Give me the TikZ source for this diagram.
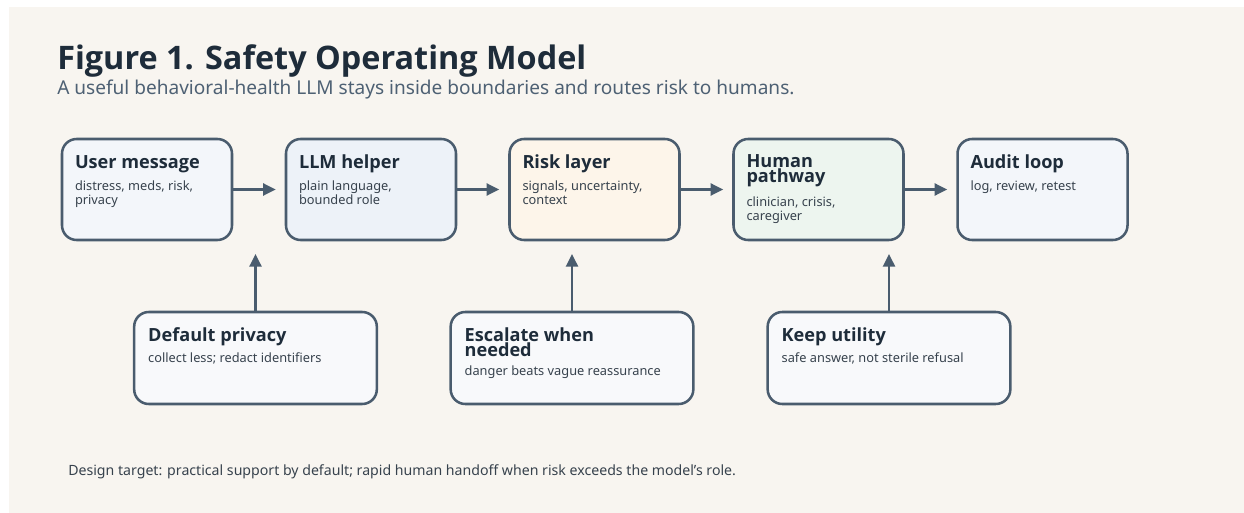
\documentclass[tikz,border=0pt]{standalone}
\usepackage{fontspec}
\setmainfont{Noto Sans}
\newfontfamily\headfont{Open Sans}
\usetikzlibrary{arrows.meta,positioning}

\definecolor{paper}{HTML}{F8F5F0}
\definecolor{ink}{HTML}{1E2C3A}
\definecolor{edge}{HTML}{4A5C6E}
\definecolor{subink}{HTML}{4E6174}
\definecolor{bodyink}{HTML}{37424D}
\definecolor{bluefill}{HTML}{F3F6FA}
\definecolor{llmfill}{HTML}{EDF2F8}
\definecolor{riskfill}{HTML}{FDF5EA}
\definecolor{humanfill}{HTML}{EDF5EF}
\definecolor{rulefill}{HTML}{F8F9FB}

\tikzset{
  card/.style={draw=edge, line width=1.9pt, rounded corners=11pt,
    minimum width=127.5pt, minimum height=75.75pt, inner sep=0pt},
  rulecard/.style={card, fill=rulefill, minimum width=182pt, minimum height=69pt},
  head/.style={anchor=base west, inner sep=0pt, text=ink, align=left,
    font=\headfont\bfseries\fontsize{13.6}{11.5}\selectfont},
  body/.style={anchor=base west, inner sep=0pt, text=bodyink, align=left,
    font=\fontsize{9.6}{10.5}\selectfont},
  flow/.style={draw=edge, line width=1.8pt, -{Triangle[length=9.5pt,width=9pt]}}
}

\begin{document}
\begin{tikzpicture}[x=0.75pt,y=-0.75pt]
  % page and paper
  \useasboundingbox[fill=white] (0,0) rectangle (1244,513);
  \fill[paper] (9,7) rectangle (1244,513);

  % heading
  \node[anchor=base west, inner sep=0pt, text=ink,
    font=\headfont\bfseries\fontsize{24.3}{28}\selectfont] (title) at (57,70) {Figure 1. Safety Operating Model};
  \node[anchor=base west, inner sep=0pt, text=subink,
    font=\fontsize{14.3}{17}\selectfont] (subtitle) at (57,95)
    {A useful behavioral-health LLM stays inside boundaries and routes risk to humans.};

  % main flow (base of a multi-line text = its last line)
  \node[card, fill=bluefill]  (user)  at (147,189.5) {};
  \node[card, fill=llmfill]   (llm)   at (371,189.5) {};
  \node[card, fill=riskfill]  (risk)  at (594.5,189.5) {};
  \node[card, fill=humanfill] (human) at (818.5,189.5) {};
  \node[card, fill=bluefill]  (audit) at (1042.5,189.5) {};

  \node[head] at ([shift={(14,31)}]user.north west) {User message};
  \node[body] at ([shift={(14,67)}]user.north west) {distress, meds, risk,\\privacy};
  \node[head] at ([shift={(14,31)}]llm.north west) {LLM helper};
  \node[body] at ([shift={(14,67)}]llm.north west) {plain language,\\bounded role};
  \node[head] at ([shift={(14,31)}]risk.north west) {Risk layer};
  \node[body] at ([shift={(14,67)}]risk.north west) {signals, uncertainty,\\context};
  \node[head] at ([shift={(14,45)}]human.north west) {Human\\pathway};
  \node[body] at ([shift={(14,83)}]human.north west) {clinician, crisis,\\caregiver};
  \node[head] at ([shift={(14,31)}]audit.north west) {Audit loop};
  \node[body] at ([shift={(14,53)}]audit.north west) {log, review, retest};

  \draw[flow, shorten >=6.75pt] (user) -- (llm);
  \draw[flow, shorten >=6.75pt] (llm) -- (risk);
  \draw[flow, shorten >=6.75pt] (risk) -- (human);
  \draw[flow, shorten >=6.75pt] (human) -- (audit);

  % guard rails below
  \node[rulecard] (privacy)  at (255.5,358) {};
  \node[rulecard] (escalate) at (572,358) {};
  \node[rulecard] (utility)  at (889,358) {};

  \node[head] at ([shift={(15,31)}]privacy.north west) {Default privacy};
  \node[body] at ([shift={(15,52)}]privacy.north west) {collect less; redact identifiers};
  \node[head] at ([shift={(15,46)}]escalate.north west) {Escalate when\\needed};
  \node[body] at ([shift={(15,65)}]escalate.north west) {danger beats vague reassurance};
  \node[head] at ([shift={(15,31)}]utility.north west) {Keep utility};
  \node[body] at ([shift={(15,52)}]utility.north west) {safe answer, not sterile refusal};

  \coordinate (privacyTip)  at (255.5,254);
  \coordinate (escalateTip) at (572,254);
  \coordinate (utilityTip)  at (889,254);
  \draw[flow] (privacy) -- (privacyTip);
  \draw[flow] (escalate) -- (escalateTip);
  \draw[flow] (utility) -- (utilityTip);

  % footnote
  \node[anchor=base west, inner sep=0pt, text=bodyink,
    font=\fontsize{10.6}{12}\selectfont] (note) at (68,475)
    {Design target: practical support by default; rapid human handoff when risk exceeds the model's role.};
\end{tikzpicture}
\end{document}
